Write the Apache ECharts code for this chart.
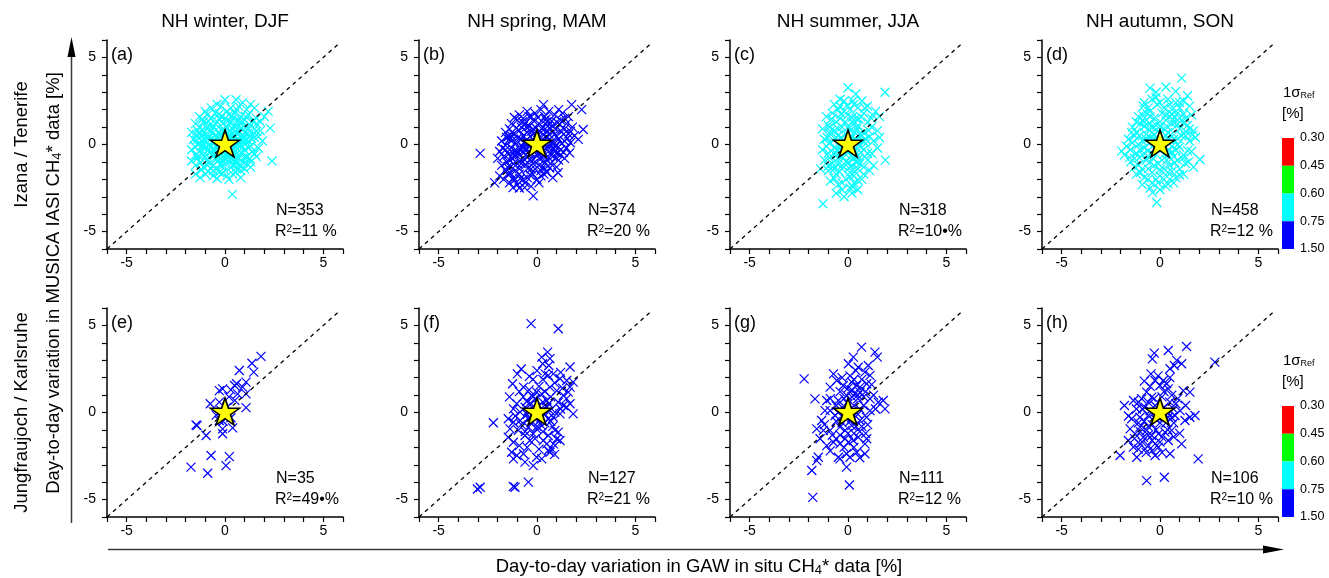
<!DOCTYPE html>
<html>
<head>
<meta charset="utf-8">
<script src="https://cdn.jsdelivr.net/npm/echarts@6/dist/echarts.min.js"></script>
<style>
  html, body { margin: 0; padding: 0; background: #fff; }
  #chart { width: 1329px; height: 578px; }
</style>
</head>
<body>
<div id="chart"></div>
<script>
// ---- labels ----
const seasons = ['NH winter, DJF', 'NH spring, MAM', 'NH summer, JJA', 'NH autumn, SON'];
const sites = ['Izana / Tenerife', 'Jungfraujoch / Karlsruhe'];
const panelTags = ['(a)', '(b)', '(c)', '(d)', '(e)', '(f)', '(g)', '(h)'];
const counts = [353, 374, 318, 458, 35, 127, 111, 106];
const r2Values = ['11 %', '20 %', '10\u2022%', '12 %', '49\u2022%', '21 %', '12 %', '10 %'];
const tickValues = [-5, 0, 5];

// ---- 1 sigma reference classes ----
const sigmaBreaks = ['0.30', '0.45', '0.60', '0.75', '1.50'];
const sigmaColors = ['#ff0000', '#00ff00', '#00ffff', '#0000ff'];
const panelSigmaClass = [2, 3, 2, 2, 3, 3, 3, 3];

// ---- diagonal (1:1) and mean point ----
const oneToOne = [[-6, -6], [5.8, 5.8]];
const meanPoint = [[0, 0]];

// ---- day-to-day variations [%]: [GAW in situ, MUSICA IASI] ----
const ptsA = [
  [0.0,2.57],[0.56,2.57],[-0.4,2.3],[0.9,2.4],[1.3,2.3],
  [-0.7,2.1],[-0.2,2.2],[0.3,2.1],[0.7,2.2],[1.1,2.0],[1.5,2.1],[2.2,1.9],[-1.0,1.9],[0.1,1.9],
  [-1.3,1.6],[-0.9,1.7],[-0.5,1.8],[-0.2,1.6],[0.2,1.7],[0.5,1.8],[0.8,1.6],[1.2,1.7],[1.6,1.5],[2.0,1.6],[-0.7,1.5],[0.0,1.5],[0.4,1.5],[1.0,1.4],
  [-1.5,1.2],[-1.1,1.3],[-0.8,1.1],[-0.4,1.3],[-0.1,1.2],[0.3,1.3],[0.6,1.1],[0.9,1.3],[1.3,1.1],[1.6,1.2],[-1.3,1.0],[-0.6,1.0],[0.1,1.0],[0.5,1.0],[1.1,1.0],[1.8,1.3],
  [-1.7,0.7],[-1.4,0.8],[-1.0,0.6],[-0.7,0.8],[-0.3,0.7],[0.0,0.8],[0.4,0.6],[0.7,0.8],[1.0,0.7],[1.4,0.6],[1.8,0.8],[2.3,0.94],[-1.2,0.5],[-0.5,0.5],[0.2,0.5],[0.9,0.5],[1.2,0.9],[-0.9,0.9],
  [-1.6,0.3],[-1.2,0.2],[-0.9,0.4],[-0.6,0.1],[-0.3,0.3],[0.1,0.2],[0.4,0.4],[0.6,0.1],[0.9,0.3],[1.2,0.2],[1.5,0.4],[1.9,0.2],[-1.4,0.0],[-0.8,0.0],[-0.1,0.0],[0.3,0.0],[0.8,0.0],[1.3,-0.1],
  [-1.7,-0.3],[-1.3,-0.4],[-1.0,-0.2],[-0.7,-0.4],[-0.4,-0.2],[0.0,-0.4],[0.3,-0.3],[0.6,-0.5],[1.0,-0.3],[1.4,-0.4],[1.7,-0.2],[-0.2,-0.5],[0.5,-0.1],[-1.1,-0.6],
  [-1.7,-0.95],[-1.4,-0.8],[-0.9,-0.9],[-0.6,-0.7],[-0.3,-0.9],[0.1,-0.7],[0.4,-0.9],[0.7,-0.8],[1.1,-0.7],[1.3,-1.0],[2.39,-0.95],[-0.1,-1.0],[0.9,-1.0],
  [-1.5,-1.2],[-1.1,-1.3],[-0.8,-1.1],[-0.4,-1.4],[-0.1,-1.2],[0.3,-1.3],[0.6,-1.1],[1.0,-1.4],[1.3,-1.3],[-0.6,-1.5],[0.8,-1.5],
  [-1.27,-1.9],[-1.0,-1.7],[-0.6,-1.8],[-0.3,-1.6],[0.1,-1.8],[0.4,-1.7],[0.8,-1.9],[-1.5,-1.7],[0.2,-2.0],[-0.4,-1.95],
  [0.37,-2.86],
  [-0.55,0.25],[-0.25,0.55],[0.05,0.35],[0.25,0.75],[0.55,0.45],[0.75,0.25],[-0.75,-0.15],[-0.45,-0.05],[-0.15,0.15],[0.15,-0.15],
  [0.45,-0.25],[0.75,-0.15],[-0.65,-0.55],[-0.35,-0.65],[0.05,-0.55],[0.35,-0.55],[0.65,-0.75],[-0.85,0.35],[-0.45,0.85],[-0.05,0.65],
  [0.35,0.95],[0.65,0.65],[-1.05,-0.05],[1.05,0.05],[-0.2,-0.8],[0.2,-1.0],[-0.5,1.2],[0.15,1.35],[0.8,1.2],[-0.9,-1.2],
  [0.55,-1.35],[1.1,-1.1],[-1.25,0.65],[1.25,0.45],[-0.3,1.75],[0.6,2.0],[1.5,0.9],[-1.5,-0.6],[1.6,-0.7],[0.0,-1.5],
  [-1.15,1.45],[-0.85,1.35],[-0.25,1.45],[0.35,1.65],[0.7,1.4],[1.05,1.6],[1.4,1.35],[-1.45,0.55],[-1.15,0.85],[-0.6,0.7],
  [-0.15,0.85],[0.5,0.75],[0.85,0.95],[1.15,0.65],[1.6,0.75],[-1.45,0.25],[-1.05,0.3],[-0.7,0.35],[-0.4,0.45],[0.25,0.3],
  [0.6,0.3],[1.05,0.3],[1.35,0.35],[1.7,0.45],[-1.5,-0.15],[-1.2,-0.1],[-0.85,-0.3],[-0.55,-0.3],[-0.1,-0.25],[0.15,-0.45],
  [0.8,-0.45],[1.2,-0.2],[1.5,-0.55],[-1.35,-0.65],[-0.95,-0.6],[-0.45,-0.85],[-0.05,-0.8],[0.3,-0.75],[0.55,-0.9],[0.95,-0.75],
  [1.25,-0.8],[-1.25,-1.05],[-0.6,-1.2],[-0.25,-1.15],[0.45,-1.15],[0.8,-1.25],[-0.85,-1.55],[-0.15,-1.65],[0.55,-1.6],[-1.2,-1.45]
];
const ptsB = [
  [-2.89,-0.51],[1.76,2.29],[2.27,2.0],[2.35,0.86],[2.1,0.29],[0.33,2.29],[-0.19,-2.95],[-2.15,-2.2],[-1.22,-2.48],[-0.63,-2.48],[1.07,-1.62],[1.66,-0.48],
  [-0.9,1.7],[-0.5,1.9],[-0.1,1.8],[0.2,2.0],[0.6,1.9],[0.9,1.7],[1.3,1.8],[1.6,1.6],[-0.3,1.6],[0.4,1.6],[1.1,2.0],[-0.7,1.5],
  [-1.3,1.2],[-1.0,1.4],[-0.6,1.2],[-0.2,1.4],[0.1,1.2],[0.5,1.3],[0.8,1.1],[1.2,1.4],[1.5,1.2],[1.8,1.0],[-0.8,1.0],[0.3,1.0],[1.0,1.3],[-0.4,1.05],[1.4,1.5],
  [-1.6,0.7],[-1.2,0.6],[-0.9,0.8],[-0.5,0.7],[-0.2,0.9],[0.2,0.7],[0.5,0.8],[0.9,0.6],[1.2,0.8],[1.6,0.6],[1.9,0.5],[-0.7,0.5],[0.0,0.5],[0.7,0.9],[1.4,0.9],[-1.4,0.9],
  [-1.8,0.2],[-1.4,0.3],[-1.1,0.1],[-0.8,0.3],[-0.5,0.1],[-0.2,0.3],[0.2,0.2],[0.5,0.4],[0.8,0.1],[1.1,0.3],[1.4,0.2],[1.7,0.1],[-1.6,-0.05],[-0.3,0.0],[0.4,0.0],[1.0,-0.05],
  [-1.9,-0.4],[-1.6,-0.3],[-1.3,-0.2],[-1.0,-0.4],[-0.7,-0.2],[-0.4,-0.4],[0.0,-0.3],[0.3,-0.4],[0.6,-0.2],[0.9,-0.4],[1.2,-0.3],[1.5,-0.2],[-0.2,-0.15],[0.7,-0.5],[-1.2,-0.5],
  [-2.0,-0.8],[-1.7,-0.7],[-1.4,-0.9],[-1.1,-0.7],[-0.8,-0.9],[-0.5,-0.7],[-0.2,-0.9],[0.2,-0.7],[0.5,-0.9],[0.8,-0.7],[1.1,-0.9],[1.4,-0.8],[-0.9,-0.6],[0.0,-0.6],[1.2,-0.6],
  [-1.8,-1.2],[-1.5,-1.3],[-1.2,-1.1],[-0.9,-1.4],[-0.6,-1.2],[-0.3,-1.4],[0.1,-1.2],[0.4,-1.4],[0.7,-1.1],[1.0,-1.3],[-1.0,-1.1],[0.2,-1.5],[-1.6,-1.5],
  [-1.9,-1.8],[-1.5,-1.7],[-1.2,-1.9],[-0.9,-1.7],[-0.5,-1.9],[-0.2,-1.7],[0.2,-1.8],[0.5,-1.6],[0.8,-1.9],[-0.7,-2.0],[-1.7,-2.0],[0.0,-2.0],
  [-1.4,-2.2],[-1.0,-2.3],[-0.6,-2.2],[-0.3,-2.4],[0.1,-2.2],[-0.9,-2.5],
  [-0.55,0.25],[-0.25,0.55],[0.05,0.35],[0.35,0.55],[0.65,0.3],[-0.75,-0.1],[-0.45,-0.05],[0.1,-0.1],[0.45,-0.2],[-0.65,-0.45],
  [-0.35,-0.6],[0.05,-0.5],[0.35,-0.65],[-0.95,0.4],[-0.3,0.75],[0.25,0.9],[0.6,0.6],[-1.15,-0.35],[-0.8,-1.1],[-0.2,-1.1],
  [0.4,-1.05],[0.9,-0.1],[-1.3,0.5],[1.0,0.45],
  [-1.15,1.55],[-0.75,1.3],[-0.4,1.6],[0.05,1.55],[0.45,1.45],[0.75,1.35],[1.15,1.15],[-1.45,0.45],[-1.05,0.95],[-0.55,1.0],
  [-0.05,0.95],[0.55,1.05],[0.95,0.85],[1.35,0.6],[1.7,0.75],[-1.55,0.4],[-1.25,0.25],[-0.65,0.1],[-0.15,0.05],[0.35,0.25],
  [0.65,0.05],[1.25,0.05],[1.55,0.35],[-1.75,-0.2],[-1.45,-0.55],[-0.85,-0.3],[-0.55,-0.25],[-0.1,-0.3],[0.2,-0.3],[0.85,-0.25],
  [1.05,-0.5],[1.35,-0.45],[-1.55,-1.0],[-1.25,-0.8],[-0.65,-0.85],[-0.35,-0.85],[0.15,-0.85],[0.6,-0.75],[0.95,-0.75],[-1.35,-1.3],
  [-1.1,-1.5],[-0.45,-1.35],[-0.1,-1.4],[0.3,-1.3],[0.65,-1.35],[-1.35,-1.65],[-0.85,-1.95],[-0.35,-1.75],[0.35,-1.7],[-1.15,-2.05]
];
const ptsC = [
  [0.0,3.26],[1.88,3.0],[-1.27,-3.4],[0.4,2.9],[-0.4,2.6],[1.9,-0.9],[-1.4,-1.4],[1.6,1.6],
  [-0.7,2.3],[-0.2,2.5],[0.3,2.3],[0.7,2.5],[-0.5,2.0],[0.1,2.0],[0.5,2.1],[1.0,2.2],
  [-1.1,1.6],[-0.8,1.8],[-0.4,1.5],[0.0,1.7],[0.4,1.5],[0.8,1.8],[1.2,1.5],[-0.6,1.3],[0.2,1.3],[1.0,1.3],[-0.2,1.9],[1.4,1.9],
  [-1.3,0.9],[-1.0,1.1],[-0.7,0.8],[-0.3,1.0],[0.1,0.8],[0.5,1.1],[0.8,0.7],[1.2,1.0],[1.5,0.8],[-0.9,0.6],[-0.1,0.6],[0.6,0.6],[0.3,1.2],
  [-1.2,0.3],[-0.9,0.1],[-0.6,0.4],[-0.2,0.2],[0.2,0.4],[0.5,0.1],[0.9,0.3],[1.3,0.2],[1.6,0.4],[-0.4,0.0],[0.7,0.5],
  [-1.3,-0.3],[-1.0,-0.5],[-0.7,-0.2],[-0.3,-0.4],[0.1,-0.2],[0.4,-0.5],[0.8,-0.3],[1.2,-0.5],[1.5,-0.2],[-0.1,-0.6],[0.6,-0.1],
  [-1.2,-0.9],[-0.8,-1.1],[-0.5,-0.8],[-0.1,-1.0],[0.3,-0.8],[0.6,-1.1],[1.0,-0.9],[1.3,-1.2],[-0.3,-1.2],[0.2,-1.2],
  [-1.0,-1.5],[-0.6,-1.7],[-0.3,-1.4],[0.1,-1.6],[0.5,-1.4],[0.8,-1.7],[1.1,-1.5],[-0.8,-1.3],[0.3,-1.8],
  [-0.9,-2.1],[-0.5,-2.3],[-0.1,-2.0],[0.3,-2.2],[0.7,-2.0],[-0.3,-2.6],[0.1,-2.5],[0.5,-2.6],
  [-0.6,-2.8],[-0.2,-3.0],[0.2,-2.8],
  [-0.5,0.5],[0.0,0.3],[0.35,0.7],[-0.35,-0.15],[0.25,-0.05],[-0.55,-0.6],[0.0,-0.35],[0.45,-0.7],[-0.15,1.3],[0.55,1.45],
  [-0.7,-1.4],[0.05,-1.35],[0.9,0.05],[-0.9,0.75],
  [-0.85,1.45],[-0.35,1.75],[0.2,1.55],[0.65,1.6],[-0.95,1.0],[-0.5,0.9],[0.0,1.0],[0.45,0.9],[1.05,0.8],[-1.05,0.4],
  [-0.75,0.25],[-0.35,0.4],[0.1,0.15],[0.4,0.3],[0.75,0.2],[1.1,0.45],[-1.1,-0.1],[-0.55,-0.3],[-0.2,-0.05],[0.3,-0.3],
  [0.65,-0.45],[1.0,-0.5],[-0.95,-0.75],[-0.7,-0.55],[-0.3,-0.7],[0.15,-0.65],[0.5,-0.85],[0.85,-0.7],[-1.0,-1.25],[-0.5,-1.1],
  [0.0,-1.05],[0.45,-1.05],[0.8,-1.3],[-0.45,-1.55],[0.35,-1.55],[-0.7,-1.95],[0.1,-1.85],[0.5,-2.05],[-0.3,-2.2],[0.25,-2.45],
  [-0.4,2.2],[0.25,2.5],[0.85,2.1],[-0.05,2.25],[1.25,1.7]
];
const ptsD = [
  [1.10,3.81],[-0.51,3.24],[0.8,3.05],[-1.95,-0.38],[2.03,-0.86],[-0.17,-3.33],[-0.38,-2.76],[-0.2,3.0],[0.3,3.3],[1.4,2.8],
  [-0.8,2.4],[-0.4,2.6],[0.0,2.4],[0.4,2.6],[0.8,2.4],[1.2,2.5],[-0.6,2.1],[0.2,2.1],[0.6,2.0],[1.0,2.1],[1.5,2.2],[-0.2,2.7],
  [-1.1,1.6],[-0.7,1.8],[-0.3,1.5],[0.1,1.8],[0.5,1.6],[0.9,1.8],[1.3,1.5],[1.6,1.7],[-0.9,1.4],[0.3,1.4],[1.1,1.4],[-0.5,1.9],
  [-1.4,1.0],[-1.0,1.2],[-0.6,0.9],[-0.2,1.1],[0.2,0.9],[0.6,1.2],[1.0,0.9],[1.4,1.1],[1.7,0.8],[-1.2,0.7],[-0.4,0.7],[0.4,0.7],[0.8,1.3],[-0.8,1.3],
  [-1.6,0.3],[-1.3,0.5],[-0.9,0.2],[-0.5,0.4],[-0.1,0.2],[0.3,0.5],[0.7,0.3],[1.1,0.5],[1.5,0.2],[1.8,0.4],[-1.1,0.0],[0.1,0.0],[0.9,0.0],[-0.3,0.55],
  [-1.8,-0.6],[-1.5,-0.3],[-1.2,-0.5],[-0.8,-0.2],[-0.4,-0.5],[0.0,-0.3],[0.4,-0.6],[0.8,-0.3],[1.2,-0.6],[1.6,-0.4],[-0.6,-0.7],[0.6,-0.1],[-1.7,-0.1],
  [-1.5,-1.0],[-1.1,-1.2],[-0.7,-0.9],[-0.3,-1.2],[0.1,-0.9],[0.5,-1.2],[0.9,-0.9],[1.3,-1.1],[1.7,-1.3],[-0.9,-1.4],[0.2,-1.4],[1.0,-1.4],
  [-1.2,-1.7],[-0.8,-1.9],[-0.4,-1.6],[0.0,-1.8],[0.4,-1.6],[0.8,-1.9],[1.2,-1.7],[-0.6,-2.0],[0.2,-2.0],
  [-0.9,-2.3],[-0.5,-2.5],[-0.1,-2.2],[0.3,-2.4],[0.7,-2.2],[0.0,-2.6],
  [-0.55,0.05],[-0.2,-0.15],[0.25,0.25],[0.55,0.55],[-0.7,0.6],[-0.1,0.75],[0.45,-0.35],[-0.35,-0.8],[0.2,-0.55],[0.7,-0.7],
  [-0.9,-0.6],[1.3,0.75],[-1.3,-0.8],[0.0,1.3],[0.6,1.75],[-0.5,1.2],
  [-0.85,2.2],[-0.15,2.3],[0.5,2.3],[1.0,2.4],[-0.9,1.7],[-0.5,1.6],[0.3,1.7],[0.75,1.55],[1.2,1.75],[-1.2,1.3],
  [-0.8,1.05],[-0.4,1.0],[0.0,1.05],[0.4,1.0],[0.85,1.1],[1.2,1.25],[1.5,0.9],[-1.45,0.7],[-1.05,0.5],[-0.7,0.3],
  [-0.3,0.3],[0.45,0.3],[0.9,0.35],[1.3,0.5],[1.65,0.55],[-1.4,0.1],[-1.0,-0.3],[-0.6,-0.35],[0.2,-0.2],[0.6,-0.45],
  [1.0,-0.15],[1.4,-0.35],[-1.55,-0.75],[-1.05,-0.75],[-0.5,-1.0],[-0.1,-1.1],[0.35,-0.9],[0.75,-1.05],[1.15,-0.8],[1.45,-1.0],
  [-1.3,-1.3],[-0.6,-1.4],[0.0,-1.45],[0.6,-1.55],[1.0,-1.75],[-1.0,-1.6],[-0.2,-2.0],[0.5,-2.0],[-0.4,-2.2],[0.4,-2.25]
];
const ptsE = [
  [1.83,3.22],[1.37,2.83],[0.73,2.41],[1.46,2.32],[1.07,1.74],[0.49,1.55],[0.59,1.65],[0.90,1.46],
  [-0.29,1.26],[-0.12,1.36],[0.30,1.30],[0.64,1.07],[1.07,1.07],[-0.75,0.50],[-0.29,0.60],[1.07,0.28],
  [-1.42,-0.75],[-1.47,-0.72],[-0.96,-1.32],[-0.12,-1.22],[-0.12,-0.94],[0.39,-0.88],[-0.29,-0.46],
  [-0.71,-2.47],[0.22,-2.53],[-1.73,-3.14],[-0.88,-3.49],[0.05,-3.05],
  [0.1,0.3],[-0.2,0.1],[0.3,-0.3],[-0.1,-0.5],[0.5,0.7],[0.2,0.9],[-0.45,-0.15]
];
const ptsF = [
  [-0.30,5.10],[1.08,4.81],
  [0.54,3.47],[0.24,3.18],[0.66,3.09],[0.29,2.80],[1.68,2.61],
  [-1.00,2.22],[-0.39,2.07],[0.41,2.22],[0.57,2.13],[0.83,2.22],
  [-1.24,1.65],[-0.69,1.46],[1.17,1.94],[1.51,1.84],[1.84,1.74],[1.68,1.46],
  [-0.02,1.17],[-0.27,0.98],[0.24,1.07],[0.66,1.46],[1.00,1.26],[1.34,0.98],[1.59,1.17],
  [-1.03,0.50],[-0.52,0.63],[-0.10,0.79],[0.49,0.69],[1.08,0.59],[1.68,0.50],[1.34,0.40],
  [-1.20,0.21],[-0.86,0.02],[-0.44,0.11],[0.66,0.11],[0.91,0.02],[1.17,-0.08],[1.84,-0.08],
  [-2.22,-0.59],[-1.46,-0.36],[-1.20,-0.56],[-0.86,-0.46],[-0.44,-0.36],[0.57,-0.36],[0.83,-0.27],
  [-1.37,-0.94],[-0.95,-1.03],[-0.44,-0.84],[-0.02,-0.94],[0.24,-0.75],[0.91,-1.03],[1.08,-1.13],
  [-1.46,-1.42],[-0.61,-1.32],[-0.19,-1.23],[0.57,-1.32],[1.00,-1.52],
  [-1.20,-1.71],[-0.36,-1.61],[0.32,-1.61],[0.83,-1.80],[1.17,-1.61],
  [-1.29,-2.28],[-1.03,-2.47],[-0.69,-2.37],[-0.02,-2.57],[0.57,-2.18],[0.75,-2.09],
  [-1.20,-2.66],[-0.61,-2.85],[-0.19,-3.05],[0.24,-2.66],[0.66,-2.28],
  [-2.89,-4.29],[-3.03,-4.39],[-1.12,-4.29],[-1.20,-4.25],[-0.44,-4.00],
  [-0.6,0.3],[-0.3,0.5],[0.1,0.4],[0.3,0.6],[0.5,0.3],[-0.5,-0.1],[-0.2,-0.2],[0.2,-0.3],[0.4,-0.1],[-0.7,0.9],
  [-0.4,1.3],[0.1,1.5],[0.4,1.2],[0.7,0.9],[-0.8,-0.7],[-0.3,-0.6],[0.1,-0.5],[0.4,-0.6],[0.7,-0.5],[-0.6,-1.1],
  [-0.1,-1.5],[0.3,-1.1],[0.8,-0.8],[-0.9,1.2],[-0.2,1.9],[0.3,1.9],[0.9,1.7],[1.3,1.4],[1.5,0.8],[1.2,0.2],
  [-1.1,-0.2],[-0.9,-1.9],[-0.5,-2.0],[0.1,-2.1],[0.5,-1.8],[0.9,-2.4],[-0.8,2.5],[0.0,2.4],[0.6,2.7],[1.2,2.3],
  [-0.2,0.9],[0.2,0.2],[-0.1,0.1],[0.6,0.5],[-0.4,-0.3],[0.0,-0.8],[1.5,0.3],[-1.4,0.9]
];
const ptsG = [
  [0.69,3.75],[0.27,3.18],[1.37,3.47],[1.49,3.18],[0.02,2.80],[0.52,2.60],[1.03,2.70],[-2.23,1.93],[-0.74,2.22],[0.86,2.32],
  [1.12,2.13],[-0.57,1.84],[-0.91,1.46],[-0.24,1.55],[0.19,1.74],[0.44,1.55],[0.61,1.46],[0.95,1.65],[0.10,1.17],[0.36,1.07],
  [0.61,1.17],[-0.07,0.98],[-1.68,0.78],[-1.08,0.69],[-0.49,0.69],[1.79,0.69],[1.88,0.21],[1.54,0.59],[1.12,0.78],[-1.17,0.11],
  [-0.91,0.11],[-0.66,-0.17],[-1.34,-0.46],[-1.59,-0.94],[-1.25,-1.03],[-0.91,-1.03],[-0.41,-0.84],[-0.15,-1.03],[0.19,-0.75],[0.61,-0.46],
  [0.95,-0.27],[1.12,0.11],[-1.42,-1.51],[-1.08,-1.90],[-0.74,-1.71],[-0.41,-1.80],[-0.15,-1.51],[0.02,-1.71],[0.27,-1.61],[0.52,-1.42],
  [0.95,-1.51],[0.86,-1.80],[-1.51,-2.57],[-1.59,-2.76],[-1.84,-3.33],[-0.49,-2.57],[-0.41,-2.66],[-0.07,-2.37],[0.10,-2.57],[0.44,-2.28],
  [0.86,-2.37],[-0.07,-3.14],[0.07,-4.16],[-1.79,-4.87],
  [-0.3,0.3],[0.0,0.5],[0.3,0.4],[0.6,0.2],[-0.5,0.0],[-0.2,-0.2],[0.2,-0.3],[0.5,-0.1],[0.8,0.4],[-0.4,1.2],
  [0.0,1.4],[0.3,1.9],[0.7,1.9],[0.8,0.9],[-0.6,-0.5],[-0.3,-0.6],[0.1,-0.5],[0.4,-0.8],[0.7,-0.8],[-0.8,-1.3],
  [-0.4,-1.3],[0.0,-1.2],[0.3,-1.2],[0.6,-1.1],[-0.6,0.4],[-0.9,0.8],[0.2,0.9],[0.5,0.8],[0.9,1.2],[1.3,1.0],
  [1.0,-0.7],[-0.2,-2.0],[0.3,-2.0],[0.6,-2.6],[-0.9,-2.2],[-0.6,-1.5],[0.1,2.1],[0.4,2.4],[-0.3,2.0],[1.2,1.6],
  [-1.2,-0.7],[-0.1,0.1],[0.2,1.3],[0.5,1.0],[-0.2,0.8],[0.9,-1.2],[1.4,0.2]
];
const ptsH = [
  [1.35,3.79],[0.42,3.56],[-0.29,3.41],[-0.39,3.08],[0.85,2.99],[1.10,2.80],[0.73,2.70],[2.79,2.89],[-0.46,2.22],[0.51,2.51],
  [-0.25,1.84],[0.17,1.84],[0.34,1.65],[0,1.55],[0.42,1.36],[1.18,1.26],[1.52,1.17],[-0.68,1.17],[-0.42,0.88],[-1.35,0.69],
  [-0.93,0.79],[-1.10,0.59],[-1.81,0.40],[-0.76,0.31],[-0.25,0.40],[0.68,0.21],[1.02,0.11],[1.78,-0.17],[1.52,-0.27],[1.27,-0.46],
  [-1.44,-0.36],[-1.02,-0.27],[-0.59,-0.17],[0.42,-0.27],[0.76,-0.17],[-1.52,-0.94],[-1.02,-0.84],[-0.68,-1.03],[-1.27,-1.23],[-0.85,-1.42],
  [-0.42,-1.32],[-0.08,-1.23],[0.25,-1.13],[0.59,-1.03],[-1.61,-1.61],[-1.02,-1.80],[-0.59,-1.90],[-0.25,-1.80],[0.42,-1.61],[1.10,-1.80],
  [-1.35,-1.99],[-0.76,-2.09],[-0.08,-1.99],[-2.03,-2.47],[-1.18,-2.57],[-0.25,-2.47],[0.51,-2.37],[1.94,-2.66],[-0.68,-3.91],[0.22,-3.72],
  [-0.5,0.1],[-0.2,-0.4],[0.2,0.3],[0.4,0.0],[-0.8,-0.5],[-0.4,-0.7],[0.0,-0.6],[0.3,-0.6],[0.7,-0.6],[-1.1,-0.6],
  [-0.9,0.2],[-0.6,0.6],[-0.3,0.8],[0.1,0.9],[0.5,0.6],[0.8,0.5],[-1.0,-1.1],[-0.6,-1.3],[-0.2,-1.0],[0.1,-1.4],
  [0.4,-1.0],[-1.3,-1.5],[-0.9,-1.7],[-0.4,-1.6],[0.0,-1.7],[-0.7,-2.3],[-0.4,-2.2],[0.1,-2.3],[-0.5,1.5],[0.2,1.2],
  [0.6,1.0],[0.9,0.8],[-0.1,2.1],[0.5,2.0],[-0.8,1.8],[1.3,0.4],[1.0,-1.2],[-1.6,-0.2],[-1.2,0.2],[0.7,-1.4],
  [-0.3,0.0],[0.1,0.0],[0.6,-0.3],[-0.6,-0.8],[-0.1,-0.3],[-1.1,-2.1]
];
const panelPoints = [ptsA, ptsB, ptsC, ptsD, ptsE, ptsF, ptsG, ptsH];

// ---- drawing ----
const FONT = '"Liberation Sans", Arial, Helvetica, sans-serif';
const W = 236, H = 209;
const colLeft = [107, 419, 730, 1042];
const rowTop = [40, 308];
const crossPath = 'path://M0,0L10,10M10,0L0,10';
const starPath = 'path://M50,0L61.2,34.5L97.6,34.5L68.2,55.9L79.4,90.5L50,69.1L20.6,90.5L31.8,55.9L2.4,34.5L38.8,34.5Z';

function txt(x, y, text, size, opts) {
  const o = opts || {};
  return {
    type: 'text', x: x, y: y, rotation: o.rotation || 0, silent: true,
    style: {
      text: text, fill: o.fill || '#000', font: size + 'px ' + FONT,
      fontSize: size, fontFamily: FONT,
      align: o.align || 'left', textAlign: o.align || 'left',
      verticalAlign: 'middle', textVerticalAlign: 'middle',
      rich: o.rich
    }
  };
}

const grids = [], xAxes = [], yAxes = [], series = [], graphics = [];

const labelFmt = v => {
  const r = Math.round(v);
  return (Math.abs(v - r) < 1e-6 && tickValues.indexOf(r) >= 0) ? String(r) : '';
};

panelPoints.forEach((pts, i) => {
  const r = Math.floor(i / 4), c = i % 4;
  const left = colLeft[c], top = rowTop[r];
  grids.push({ left: left, top: top, width: W, height: H, containLabel: false, outerBoundsMode: 'none' });
  const base = {
    type: 'value', gridIndex: i, min: -6, max: 6, interval: 1,
    splitLine: { show: false },
    axisLine: { show: true, onZero: false, lineStyle: { color: '#000', width: 1.5 } },
    axisTick: { show: true, inside: false, length: 5, lineStyle: { color: '#000', width: 1.2 } }
  };
  xAxes.push(Object.assign({}, base, {
    axisLabel: { formatter: labelFmt, color: '#000', fontSize: 14, fontFamily: FONT, margin: 7 }
  }));
  yAxes.push(Object.assign({}, base, {
    axisLabel: { formatter: labelFmt, color: '#000', fontSize: 14, fontFamily: FONT, margin: 11 }
  }));

  const col = sigmaColors[panelSigmaClass[i]];
  series.push({
    type: 'scatter', xAxisIndex: i, yAxisIndex: i, data: pts,
    symbol: crossPath, symbolSize: 9, silent: true,
    itemStyle: { color: col, borderColor: col, borderWidth: 1.2, opacity: 1 },
    z: 2
  });
  series.push({
    type: 'line', xAxisIndex: i, yAxisIndex: i, data: oneToOne,
    symbol: 'none', silent: true,
    lineStyle: { color: '#000', width: 1.3, type: [4, 4] },
    z: 3
  });
  series.push({
    type: 'scatter', xAxisIndex: i, yAxisIndex: i, data: meanPoint,
    symbol: starPath, symbolSize: [29, 27], symbolOffset: [0, -1], silent: true,
    itemStyle: { color: '#ffff00', borderColor: '#000', borderWidth: 1.6, opacity: 1 },
    z: 4
  });

  // panel tag and statistics
  graphics.push(txt(left + 4, top + 15, panelTags[i], 18));
  graphics.push(txt(left + 169, top + 171, 'N=' + counts[i], 16));
  graphics.push(txt(left + 168, top + 192, '{b|R}{s|2}{b|=' + r2Values[i] + '}', 16, {
    rich: {
      b: { fontSize: 16, fontFamily: FONT, fill: '#000', color: '#000' },
      s: { fontSize: 10, fontFamily: FONT, fill: '#000', color: '#000', verticalAlign: 'top', padding: [0, 0, 6, 0] }
    }
  }));
});

// column titles
seasons.forEach((s, c) => graphics.push(txt(colLeft[c] + W / 2, 22, s, 19, { align: 'center' })));

// row (site) labels and shared axis titles
const richSub = {
  b: { fontSize: 18.5, fontFamily: FONT, fill: '#000', color: '#000' },
  sub: { fontSize: 13, fontFamily: FONT, fill: '#000', color: '#000', verticalAlign: 'bottom', padding: [7, 0, 0, 0] },
  sup: { fontSize: 13, fontFamily: FONT, fill: '#000', color: '#000', verticalAlign: 'top' }
};
graphics.push(txt(22, rowTop[0] + H / 2, sites[0], 18.5, { align: 'center', rotation: Math.PI / 2 }));
graphics.push(txt(22, rowTop[1] + H / 2, sites[1], 18.5, { align: 'center', rotation: Math.PI / 2 }));
graphics.push(txt(54, 283, '{b|Day-to-day variation in MUSICA IASI CH}{sub|4}{b|* data [%]}', 18.5,
  { align: 'center', rotation: Math.PI / 2, rich: richSub }));
graphics.push(txt(699, 567, '{b|Day-to-day variation in GAW in situ CH}{sub|4}{b|* data [%]}', 18.5,
  { align: 'center', rich: richSub }));

// shared axis arrows
graphics.push({ type: 'line', silent: true, shape: { x1: 71.5, y1: 523, x2: 71.5, y2: 52 }, style: { stroke: '#3a3a3a', lineWidth: 1.5 } });
graphics.push({ type: 'polygon', silent: true, shape: { points: [[71.5, 37], [67.5, 57], [75.5, 57]] }, style: { fill: '#000' } });
graphics.push({ type: 'line', silent: true, shape: { x1: 108, y1: 549.5, x2: 1268, y2: 549.5 }, style: { stroke: '#3a3a3a', lineWidth: 1.5 } });
graphics.push({ type: 'polygon', silent: true, shape: { points: [[1284, 549.5], [1263, 545.5], [1263, 553.5]] }, style: { fill: '#000' } });

// colour bars for the 1-sigma reference classes
rowTop.forEach(top => {
  const barX = 1282, barW = 12, barTop = top + 98, step = (H - 98) / sigmaColors.length;
  graphics.push(txt(1283, top + 53, '{a|1\u03c3}{s|Ref}', 15, {
    rich: {
      a: { fontSize: 15, fontFamily: FONT, fill: '#000', color: '#000' },
      s: { fontSize: 9, fontFamily: FONT, fill: '#000', color: '#000', verticalAlign: 'bottom', padding: [5, 0, 0, 0] }
    }
  }));
  graphics.push(txt(1282, top + 74, '[%]', 15));
  sigmaColors.forEach((cl, k) => {
    graphics.push({ type: 'rect', silent: true, shape: { x: barX, y: barTop + k * step, width: barW, height: step }, style: { fill: cl } });
  });
  sigmaBreaks.forEach((b, k) => graphics.push(txt(1300, barTop + k * step, b, 12.5)));
});

const chart = echarts.init(document.getElementById('chart'));
chart.setOption({
  animation: false,
  backgroundColor: '#fff',
  grid: grids,
  xAxis: xAxes,
  yAxis: yAxes,
  series: series,
  graphic: { elements: graphics }
});
</script>
</body>
</html>
